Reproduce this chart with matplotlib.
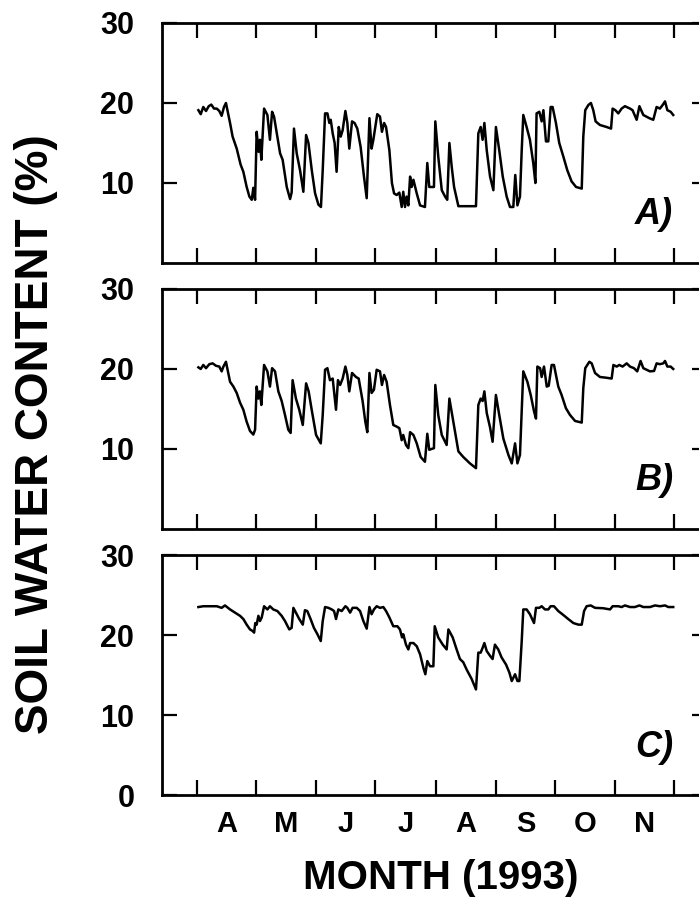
import numpy as np
import matplotlib
matplotlib.use("Agg")
import matplotlib.pyplot as plt
from matplotlib.ticker import FixedLocator, NullFormatter, FixedFormatter

plt.rcParams['font.family'] = ['Liberation Sans', 'DejaVu Sans']

# day of year (1993) and soil water content (%)
day_a = [91.7, 92.9, 94.2, 95.6, 97.0, 98.3, 99.7, 101.1, 102.4, 103.6, 104.8, 105.8, 107.9, 109.2,
         111.3, 113.3, 114.7, 116.4, 117.8, 119.0, 119.8, 120.7, 121.5, 122.5, 123.2, 123.9, 125.3,
         127.0, 128.3, 129.4, 130.4, 132.1, 133.5, 134.8, 136.9, 138.6, 139.4, 140.6, 142.0, 143.7,
         145.4, 146.8, 148.0, 149.7, 151.4, 153.1, 154.4, 155.3, 156.5, 157.7, 158.7, 159.4, 160.4,
         161.4, 162.4, 163.5, 164.5, 165.5, 166.9, 167.9, 168.9, 170.3, 171.6, 173.0, 174.7, 176.4,
         177.8, 179.2, 180.3, 181.2, 182.2, 183.2, 184.6, 185.6, 186.7, 187.7, 189.4, 190.7, 191.8,
         193.1, 194.5, 195.7, 196.5, 197.4, 198.2, 199.1, 200.0, 200.8, 201.7, 203.4, 205.1, 207.6,
         208.8, 209.8, 212.2, 212.9, 214.4, 216.2, 217.9, 219.0, 220.1, 221.3, 222.5, 224.7, 233.7,
         234.9, 236.1, 237.1, 238.0, 239.2, 240.9, 242.6, 243.9, 245.6, 247.4, 249.4, 251.1, 252.8,
         253.8, 254.9, 256.2, 257.1, 257.9, 259.6, 261.3, 263.0, 264.1, 264.7, 266.1, 267.3, 268.2,
         269.5, 270.7, 271.9, 272.9, 274.6, 276.3, 278.4, 280.4, 282.6, 284.9, 287.8, 288.6, 289.6,
         291.2, 292.5, 293.7, 294.9, 297.1, 300.5, 302.8, 303.6, 305.0, 306.5, 308.2, 309.9, 312.5,
         313.8, 315.9, 317.3, 319.3, 322.4, 324.4, 326.1, 327.8, 329.2, 330.4, 331.6, 333.3, 334.6]
swc_a = [19.1, 18.6, 19.5, 19.0, 19.6, 19.8, 19.3, 19.3, 19.0, 18.4, 19.5, 20.0, 17.5, 15.8,
         14.3, 12.3, 11.4, 9.5, 8.3, 7.9, 9.4, 7.9, 16.4, 13.9, 15.4, 12.9, 19.3,
         18.5, 15.4, 18.9, 18.3, 15.8, 13.7, 12.9, 9.5, 8.0, 8.8, 16.8, 13.7, 11.6,
         8.9, 16.0, 15.0, 11.6, 8.7, 7.3, 7.0, 11.6, 18.7, 18.7, 17.5, 17.9, 16.2,
         15.0, 11.4, 17.0, 15.8, 16.6, 19.0, 17.5, 14.3, 17.7, 17.5, 16.8, 14.5, 10.8,
         8.1, 18.1, 14.3, 15.4, 17.0, 18.6, 18.3, 16.4, 17.5, 17.0, 14.1, 10.0, 8.7,
         8.5, 8.8, 7.0, 8.9, 7.0, 8.3, 7.2, 10.8, 9.5, 10.4, 8.7, 7.2, 7.0,
         12.5, 9.5, 9.5, 17.7, 13.3, 9.1, 8.3, 7.9, 15.0, 12.0, 9.5, 7.1, 7.1,
         16.2, 17.0, 15.4, 17.5, 14.1, 10.8, 9.1, 17.0, 14.1, 10.8, 8.3, 7.0, 7.0,
         11.0, 7.2, 8.3, 14.1, 18.5, 17.0, 15.4, 12.5, 10.0, 18.7, 18.9, 17.7, 19.1,
         15.2, 15.2, 19.5, 19.5, 17.5, 15.0, 13.3, 11.6, 10.2, 9.5, 9.3, 15.8, 19.1,
         19.75, 20.0, 19.1, 17.7, 17.25, 17.0, 16.8, 19.3, 19.1, 18.7, 19.3, 19.6, 19.3,
         19.1, 17.9, 19.6, 18.5, 18.1, 17.9, 19.5, 19.3, 19.75, 20.2, 19.1, 18.9, 18.5]

day_b = [91.7, 92.9, 94.2, 95.6, 97.3, 99.0, 100.7, 102.4, 103.6, 104.5, 105.8, 107.9, 109.6, 111.3,
         113.0, 114.7, 116.4, 118.1, 119.8, 120.7, 121.5, 122.4, 123.2, 123.9, 125.3, 127.0, 128.3,
         129.4, 130.9, 132.6, 134.3, 136.0, 137.7, 138.9, 139.9, 141.6, 143.3, 145.1, 146.8, 148.1,
         149.8, 151.9, 154.3, 155.3, 156.5, 157.7, 159.0, 160.4, 161.1, 162.1, 163.1, 164.2, 165.5,
         166.9, 167.9, 168.9, 170.3, 172.3, 173.7, 175.7, 177.1, 178.1, 179.2, 180.3, 181.5, 182.9,
         184.6, 185.6, 186.7, 188.0, 189.7, 191.4, 193.1, 194.5, 195.7, 196.5, 197.9, 199.1, 200.0,
         201.7, 203.4, 205.4, 207.6, 208.8, 209.8, 212.2, 212.9, 214.4, 216.2, 218.7, 220.1, 222.1,
         224.7, 227.2, 230.6, 233.7, 234.9, 236.1, 237.1, 238.0, 239.2, 240.9, 242.2, 243.9, 245.6,
         247.7, 250.3, 252.0, 253.7, 254.9, 256.2, 257.1, 257.9, 260.0, 261.7, 263.4, 264.4, 265.1,
         266.5, 267.3, 268.5, 269.9, 270.9, 272.4, 273.6, 275.8, 277.5, 279.7, 281.8, 284.4, 287.8,
         288.6, 289.6, 291.7, 292.9, 294.6, 297.1, 300.5, 303.1, 304.0, 305.7, 307.0, 308.7, 310.8,
         312.5, 314.5, 316.2, 317.9, 319.3, 322.7, 324.8, 326.1, 327.8, 329.5, 330.4, 331.6, 333.3,
         334.6]
swc_b = [20.2, 20.0, 20.5, 20.1, 20.6, 20.7, 20.4, 20.3, 19.7, 20.3, 20.9, 18.4, 17.8, 17.0,
         15.8, 14.9, 13.4, 12.25, 11.8, 12.4, 17.8, 16.3, 17.2, 15.5, 20.5, 19.7, 17.8,
         20.1, 19.7, 17.2, 16.0, 14.25, 12.4, 12.0, 18.6, 16.3, 14.9, 13.0, 18.2, 17.2,
         14.7, 11.75, 10.7, 14.25, 19.9, 20.1, 18.6, 18.8, 17.2, 14.9, 18.6, 18.0, 18.8,
         20.3, 19.25, 17.2, 19.5, 19.0, 18.8, 16.0, 13.4, 12.1, 19.5, 17.0, 17.4, 19.9,
         19.7, 18.0, 19.25, 18.4, 15.5, 13.0, 12.8, 12.6, 11.1, 11.75, 10.5, 10.1, 12.1,
         11.75, 10.7, 9.0, 8.4, 11.9, 9.9, 10.1, 18.0, 14.25, 11.75, 10.5, 16.3, 13.4,
         9.7, 9.0, 8.2, 7.6, 15.5, 16.3, 16.0, 17.2, 14.5, 12.7, 10.9, 16.75, 14.25,
         11.3, 9.25, 8.2, 10.7, 8.2, 9.25, 14.7, 19.7, 18.4, 16.75, 14.7, 13.8, 20.3,
         20.1, 19.0, 20.3, 17.8, 17.9, 20.5, 20.5, 17.8, 16.75, 15.1, 14.25, 13.5, 13.3,
         17.6, 20.1, 20.9, 20.7, 19.5, 19.0, 18.9, 18.8, 20.5, 20.3, 20.5, 20.3, 20.7,
         20.3, 20.1, 19.7, 21.0, 20.1, 19.7, 19.75, 20.7, 20.6, 20.7, 21.0, 20.3, 20.3,
         20.0]

day_c = [91.7, 94.2, 97.7, 101.1, 103.6, 105.3, 107.9, 110.4, 113.0, 114.7, 116.4, 118.1, 119.5,
         120.2, 120.8, 121.5, 122.4, 123.2, 124.1, 125.3, 127.0, 128.3, 130.0, 132.1, 134.3, 136.0,
         138.2, 139.4, 140.3, 142.0, 143.3, 145.1, 146.2, 147.4, 149.1, 150.8, 152.6, 154.3, 155.3,
         156.5, 158.2, 159.9, 161.1, 162.1, 163.3, 165.0, 166.9, 167.9, 169.3, 170.6, 172.7, 174.4,
         176.1, 177.8, 179.2, 180.3, 181.5, 182.9, 184.6, 186.3, 187.7, 189.4, 191.4, 193.5, 194.8,
         195.9, 196.5, 197.9, 199.1, 200.0, 201.7, 203.4, 205.1, 206.8, 207.8, 208.8, 210.2, 211.9,
         212.6, 214.4, 216.7, 218.7, 219.6, 221.8, 223.8, 225.5, 227.2, 228.9, 231.5, 233.7, 234.9,
         236.1, 237.1, 238.0, 239.2, 240.9, 242.2, 243.4, 245.1, 246.8, 249.1, 250.8, 252.0, 253.7,
         254.9, 255.9, 257.1, 257.9, 259.6, 261.3, 263.4, 264.4, 266.1, 267.3, 269.0, 270.7, 271.9,
         273.6, 275.8, 278.4, 280.9, 283.5, 286.1, 287.8, 289.0, 290.3, 292.4, 294.6, 298.8, 302.3,
         303.6, 306.5, 308.2, 309.9, 312.5, 315.0, 317.3, 319.3, 322.7, 325.3, 327.8, 330.4, 332.1,
         334.6]
swc_c = [23.5, 23.6, 23.6, 23.6, 23.4, 23.7, 23.2, 22.8, 22.4, 22.0, 21.3, 20.7, 20.5,
         20.3, 21.5, 21.3, 22.4, 21.75, 22.2, 23.6, 23.2, 23.6, 23.2, 23.0, 22.4, 21.75,
         20.7, 20.9, 23.4, 22.6, 22.0, 21.3, 23.1, 23.0, 22.0, 20.9, 20.1, 19.25, 21.75,
         23.5, 23.4, 23.2, 23.0, 22.0, 23.2, 23.0, 23.6, 23.4, 22.8, 23.4, 23.4, 23.0,
         21.75, 20.8, 23.5, 22.6, 23.2, 23.6, 23.4, 23.5, 23.0, 22.2, 21.1, 21.1, 20.7,
         19.7, 20.1, 18.8, 18.2, 19.0, 19.0, 18.6, 17.6, 15.9, 15.1, 16.75, 16.1, 16.1,
         21.1, 19.7, 18.8, 18.2, 20.7, 19.7, 18.2, 17.0, 16.6, 15.7, 14.5, 13.2, 17.8,
         17.8, 18.4, 19.0, 18.0, 17.4, 17.0, 18.8, 18.2, 17.2, 16.3, 15.3, 14.25, 15.1,
         14.25, 14.25, 19.25, 23.2, 23.2, 22.6, 21.5, 23.4, 23.4, 23.6, 23.2, 23.2, 23.6,
         23.6, 23.0, 22.5, 22.0, 21.5, 21.3, 21.3, 23.0, 23.6, 23.7, 23.4, 23.35, 23.2,
         23.6, 23.6, 23.5, 23.7, 23.5, 23.5, 23.7, 23.5, 23.5, 23.7, 23.6, 23.7, 23.5,
         23.5]

# first day of each month Apr..Dec, month letters sit midway
month_starts = [91, 121, 152, 182, 213, 244, 274, 305, 335]
month_labels = ['A', 'M', 'J', 'J', 'A', 'S', 'O', 'N']
panel_names = ['A)', 'B)', 'C)']

fig = plt.figure(figsize=(6.99, 9.05), dpi=100)

panels = [(day_a, swc_a), (day_b, swc_b), (day_c, swc_c)]
bottoms = [0.7094, 0.4155, 0.1215]

for i, (x, y) in enumerate(panels):
    ax = fig.add_axes([0.2318, bottoms[i], 0.7797, 0.2652])
    ax.plot(x, y, color='black', lw=1.8)
    ax.set_xlim(73.1, 351.9)
    ax.set_ylim(0, 30)
    for s in ax.spines.values():
        s.set_linewidth(2.0)

    ax.xaxis.set_major_locator(FixedLocator(month_starts))
    ax.xaxis.set_major_formatter(NullFormatter())
    if i == 2:
        ax.set_yticks([0, 10, 20, 30])
        mids = [(month_starts[k] + month_starts[k + 1]) / 2 for k in range(8)]
        ax.xaxis.set_minor_locator(FixedLocator(mids))
        ax.xaxis.set_minor_formatter(FixedFormatter(month_labels))
        ax.tick_params(axis='x', which='minor', length=0, pad=11, labelsize=21)
        for lab in ax.get_xticklabels(minor=True):
            lab.set_fontweight('bold')
    else:
        ax.set_yticks([10, 20, 30])

    ax.tick_params(which='major', direction='in', length=10.5, width=1.6,
                   top=True, right=True, labelsize=22, pad=20)
    for lab in ax.get_yticklabels():
        lab.set_fontweight('bold')

    ax.text(334.5, 6.0, panel_names[i], ha='right', va='center',
            fontsize=26, fontweight='bold', style='italic')

fig.text(0.052, 0.52, 'SOIL WATER CONTENT (%)', rotation=90, ha='center', va='center',
         fontsize=33, fontweight='bold')
fig.text(0.630, 0.030, 'MONTH (1993)', ha='center', va='center',
         fontsize=29, fontweight='bold')

fig.savefig('out.png', dpi=100)
